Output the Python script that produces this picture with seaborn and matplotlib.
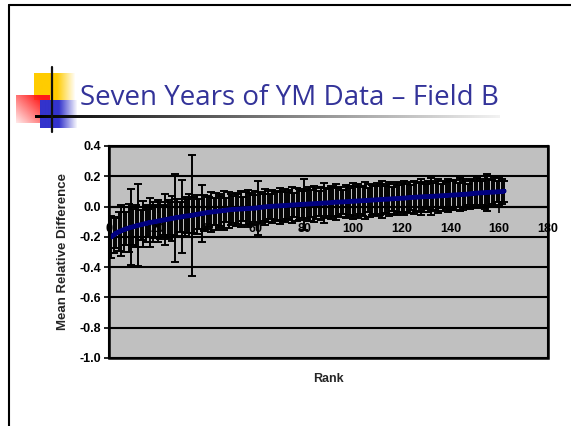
import numpy as np
import pandas as pd
import seaborn as sns
import matplotlib.pyplot as plt
from matplotlib.patches import Rectangle

# Data: mean relative difference per rank, and error-bar half widths
rank = list(range(1, 163))
mean_diff = [
    -0.200, -0.186, -0.176, -0.166, -0.159, -0.153, -0.147, -0.142, -0.137, -0.133,
    -0.128, -0.124, -0.120, -0.116, -0.112, -0.108, -0.105, -0.102, -0.099, -0.096,
    -0.093, -0.090, -0.087, -0.084, -0.081, -0.078, -0.075, -0.072, -0.070, -0.067,
    -0.064, -0.062, -0.060, -0.058, -0.055, -0.052, -0.049, -0.046, -0.043, -0.040,
    -0.038, -0.036, -0.034, -0.032, -0.030, -0.028, -0.026, -0.024, -0.022, -0.020,
    -0.019, -0.018, -0.017, -0.016, -0.015, -0.014, -0.013, -0.012, -0.011, -0.010,
    -0.008, -0.006, -0.004, -0.002, 0.000, 0.001, 0.002, 0.003, 0.004, 0.005,
    0.006, 0.007, 0.008, 0.009, 0.010, 0.011, 0.012, 0.013, 0.014, 0.015,
    0.016, 0.017, 0.018, 0.019, 0.020, 0.021, 0.022, 0.023, 0.024, 0.025,
    0.026, 0.028, 0.029, 0.030, 0.030, 0.031, 0.032, 0.033, 0.034, 0.035,
    0.036, 0.037, 0.038, 0.039, 0.040, 0.041, 0.042, 0.043, 0.044, 0.045,
    0.046, 0.047, 0.048, 0.049, 0.050, 0.051, 0.052, 0.053, 0.054, 0.055,
    0.056, 0.057, 0.059, 0.060, 0.061, 0.062, 0.063, 0.064, 0.065, 0.066,
    0.066, 0.067, 0.068, 0.069, 0.070, 0.071, 0.072, 0.073, 0.074, 0.075,
    0.076, 0.077, 0.078, 0.079, 0.080, 0.081, 0.082, 0.084, 0.086, 0.088,
    0.089, 0.090, 0.091, 0.092, 0.093, 0.094, 0.095, 0.096, 0.097, 0.098,
    0.099, 0.102,
]
err = [
    0.14, 0.12, 0.10, 0.13, 0.17, 0.15, 0.11, 0.16, 0.25, 0.12,
    0.14, 0.27, 0.10, 0.15, 0.12, 0.09, 0.16, 0.13, 0.11, 0.14,
    0.12, 0.10, 0.17, 0.13, 0.11, 0.15, 0.29, 0.12, 0.10, 0.24,
    0.13, 0.11, 0.14, 0.40, 0.12, 0.13, 0.10, 0.19, 0.12, 0.11,
    0.10, 0.13, 0.09, 0.12, 0.11, 0.10, 0.13, 0.08, 0.12, 0.10,
    0.09, 0.11, 0.10, 0.12, 0.08, 0.11, 0.12, 0.10, 0.09, 0.11,
    0.18, 0.10, 0.09, 0.12, 0.10, 0.08, 0.11, 0.10, 0.09, 0.12,
    0.10, 0.11, 0.09, 0.10, 0.12, 0.08, 0.11, 0.10, 0.09, 0.17,
    0.10, 0.11, 0.09, 0.12, 0.10, 0.08, 0.11, 0.13, 0.10, 0.09,
    0.11, 0.10, 0.12, 0.09, 0.10, 0.08, 0.11, 0.10, 0.09, 0.12,
    0.10, 0.11, 0.09, 0.10, 0.12, 0.08, 0.11, 0.10, 0.09, 0.11,
    0.10, 0.12, 0.09, 0.10, 0.11, 0.08, 0.10, 0.11, 0.09, 0.10,
    0.11, 0.09, 0.10, 0.08, 0.11, 0.10, 0.09, 0.12, 0.10, 0.08,
    0.10, 0.12, 0.09, 0.10, 0.11, 0.08, 0.10, 0.09, 0.11, 0.10,
    0.09, 0.10, 0.08, 0.11, 0.10, 0.09, 0.07, 0.10, 0.09, 0.08,
    0.10, 0.09, 0.08, 0.11, 0.12, 0.09, 0.08, 0.10, 0.07, 0.09,
    0.08, 0.07,
]
x_ticks = [0, 20, 40, 60, 80, 100, 120, 140, 160, 180]
y_ticks = [-1.0, -0.8, -0.6, -0.4, -0.2, 0.0, 0.2, 0.4]
title = 'Seven Years of YM Data \u2013 Field B'


def gradient(color, w, h, alpha):
    img = np.zeros((h, w, 4))
    img[..., :3] = color
    img[..., 3] = alpha
    return img


def main():
    sns.set_theme(style='white')
    plt.rcParams['font.family'] = ['Liberation Sans', 'DejaVu Sans']

    fig = plt.figure(figsize=(5.71, 4.26), dpi=100)

    # Slide decoration in pixel coordinates.
    deco = fig.add_axes([0, 0, 1, 1])
    deco.set_xlim(0, 571)
    deco.set_ylim(426, 0)
    deco.axis('off')
    deco.plot([9, 571], [5, 5], color='black', lw=1.5)
    deco.plot([9, 9], [5, 426], color='black', lw=1.5)

    xs = np.linspace(0, 1, 40)[None, :]
    ys = np.linspace(0, 1, 28)[:, None]
    yel_a = np.clip((1 - xs) / 0.45, 0, 1) * np.ones_like(ys)
    deco.imshow(gradient((1.0, 0.8, 0.0), 40, 28, yel_a), extent=(34, 76, 100, 73),
                interpolation='bilinear', aspect='auto')
    red_a = np.clip(0.1 + 0.6 * xs + 0.5 * (1 - ys), 0, 1)
    deco.imshow(gradient((1.0, 0.1, 0.1), 40, 28, red_a), extent=(16, 50, 123, 95),
                interpolation='bilinear', aspect='auto')
    blu_a = np.clip((1 - xs) / 0.5, 0, 1) * np.ones_like(ys)
    deco.imshow(gradient((0.2, 0.2, 0.8), 40, 28, blu_a), extent=(40, 78, 128, 100),
                interpolation='bilinear', aspect='auto')
    line_img = np.zeros((1, 200, 3))
    line_img[0, :, :] = np.linspace(0.0, 0.95, 200)[:, None]
    deco.imshow(line_img, extent=(35, 500, 118.5, 116), interpolation='bilinear', aspect='auto')
    deco.plot([52, 52], [67, 132], color='#111111', lw=1.6)
    deco.text(80, 105, title, color='#333399', fontsize=20, family=['Open Sans', 'DejaVu Sans'],
              va='baseline', ha='left')

    # Chart.
    ax = fig.add_axes([109 / 571, 1 - 358 / 426, 439 / 571, 212 / 426])
    ax.spines['bottom'].set_position(('data', 0))
    ax.set_facecolor('#c0c0c0')
    ax.grid(axis='y', color='black', lw=1.5)
    ax.set_axisbelow(True)

    ax.errorbar(rank, mean_diff, yerr=err, fmt='none', ecolor='black', elinewidth=1.4,
                capsize=2.6, capthick=1.4, zorder=3)
    df = pd.DataFrame({'Rank': rank, 'Mean': mean_diff})
    sns.lineplot(data=df, x='Rank', y='Mean', ax=ax, color='#000080', lw=3.5, marker='s',
                 markersize=3.5, markeredgewidth=0, zorder=4)

    ax.set_xlim(0, 180)
    ax.set_ylim(-1.0, 0.4)
    ax.set_xticks(x_ticks)
    ax.set_xticklabels([str(v) for v in x_ticks])
    ax.set_yticks(y_ticks)
    ax.set_yticklabels(['%.1f' % v for v in y_ticks])
    ax.tick_params(axis='x', direction='out', length=4, width=1.2, pad=8, colors='black', bottom=True)
    ax.tick_params(axis='y', direction='out', length=3.5, width=1.2, pad=2, colors='black', left=True)
    for lbl in ax.get_xticklabels() + ax.get_yticklabels():
        lbl.set_fontweight('bold')
        lbl.set_fontsize(9)

    for s in ax.spines.values():
        s.set_color('black')
        s.set_linewidth(1.5)
    ax.add_patch(Rectangle((0, 0), 1, 1, transform=ax.transAxes, fill=False,
                           edgecolor='black', lw=1.8, clip_on=False, zorder=5))

    ax.set_xlabel('Rank', fontweight='bold', fontsize=9)
    ax.set_ylabel('Mean Relative Difference', fontweight='bold', fontsize=9.5)
    ax.xaxis.set_label_coords(0.5, -0.07)
    ax.yaxis.set_label_coords(-0.09, 0.5)

    plt.savefig('out.png', dpi=100)
    plt.close()


if __name__ == '__main__':
    main()
